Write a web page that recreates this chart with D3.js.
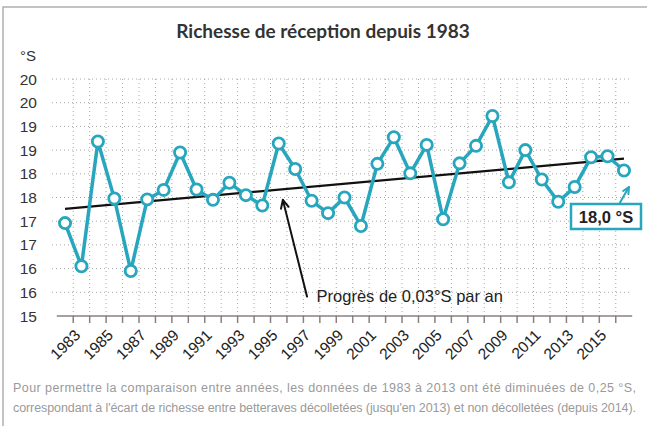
<!DOCTYPE html>
<html>
<head>
<meta charset="utf-8">
<script src="https://cdn.jsdelivr.net/npm/d3@7"></script>
<style>
    body { margin: 0; background: #fff; }
    svg { display: block; }
</style>
</head>
<body>
<script>
// values
const years = d3.range(1983, 2018);
const richesse = [
    16.96, 16.05, 18.68, 17.48, 15.95, 17.46, 17.66, 18.45, 17.67, 17.45,
    17.81, 17.55, 17.33, 18.64, 18.10, 17.43, 17.17, 17.50, 16.90, 18.21,
    18.77, 18.01, 18.61, 17.04, 18.22, 18.59, 19.22, 17.82, 18.50, 17.88,
    17.41, 17.72, 18.35, 18.37, 18.07
];
const trendYears = [1983, 2017];
const trendValues = [17.26, 18.32];
const yTicks = [15, 15.5, 16, 16.5, 17, 17.5, 18, 18.5, 19, 19.5, 20];
const yTickLabels = ["15", "16", "16", "17", "17", "18", "18", "19", "19", "20", "20"];
const xTickLabels = d3.range(1983, 2016, 2);

const title = "Richesse de réception depuis 1983";
const trendNote = "Progrès de 0,03°S par an";
const lastLabel = "18,0 °S";
const footnote = [
    "Pour permettre la comparaison entre années, les données de 1983 à 2013 ont été diminuées de 0,25 °S,",
    "correspondant à l'écart de richesse entre betteraves décolletées (jusqu'en 2013) et non décolletées (depuis 2014)."
];

const width = 647, height = 426;
const teal = "#27a6bd";

const svg = d3.select("body").append("svg")
    .attr("width", width)
    .attr("height", height);

// card frame (only top and left edges visible)
svg.append("path")
    .attr("d", `M3,${height} V7 H${width}`)
    .attr("fill", "none")
    .attr("stroke", "#b0b0b0")
    .attr("stroke-width", 1.5);

const x = d3.scaleBand()
    .domain(years)
    .range([56.8, 632.2]);
const cx = d => x(d) + x.bandwidth() / 2;
const xl = d3.scaleLinear()
    .domain([1983, 2017])
    .range([cx(1983), cx(2017)]);

const y = d3.scaleLinear()
    .domain([15, 20])
    .range([316, 79]);

// title
svg.append("text")
    .attr("x", 323)
    .attr("y", 38)
    .attr("text-anchor", "middle")
    .style("font", "bold 19px Lato")
    .attr("fill", "#333")
    .text(title);

svg.append("text")
    .attr("x", 20)
    .attr("y", 61)
    .style("font", "15px 'Liberation Sans'")
    .attr("fill", "#333")
    .text("°S");

// grid
const grid = svg.append("g")
    .attr("stroke", "#a8a8a8")
    .attr("stroke-width", 1)
    .attr("stroke-dasharray", "1,3");

grid.selectAll("line.h")
    .data(yTicks.slice(1))
    .join("line")
    .attr("class", "h")
    .attr("x1", 52).attr("x2", 631)
    .attr("y1", d => y(d)).attr("y2", d => y(d));

grid.selectAll("line.v")
    .data(years.slice(1))
    .join("line")
    .attr("class", "v")
    .attr("x1", d => x(d)).attr("x2", d => x(d))
    .attr("y1", y(20)).attr("y2", y(15));

// y labels
svg.append("g")
    .selectAll("text")
    .data(yTicks)
    .join("text")
    .attr("x", 37)
    .attr("y", d => y(d))
    .attr("dy", "0.36em")
    .attr("text-anchor", "end")
    .style("font", "15.5px 'Liberation Sans'")
    .attr("fill", "#333")
    .text((d, i) => yTickLabels[i]);

// x axis
const axis = svg.append("g")
    .attr("stroke", "#8a8080")
    .attr("stroke-width", 1.5);
axis.append("line")
    .attr("x1", x.range()[0]).attr("x2", x.range()[1])
    .attr("y1", y(15)).attr("y2", y(15));
axis.selectAll("line.tick")
    .data(years.slice(1))
    .join("line")
    .attr("class", "tick")
    .attr("x1", d => x(d)).attr("x2", d => x(d))
    .attr("y1", y(15)).attr("y2", y(15) + 7);

svg.append("g")
    .selectAll("text")
    .data(xTickLabels)
    .join("text")
    .attr("transform", d => `translate(${cx(d) + 8},${y(15) + 12}) rotate(-45)`)
    .attr("text-anchor", "end")
    .attr("dy", "0.75em")
    .style("font", "15.5px 'Liberation Sans'")
    .attr("fill", "#222")
    .text(d => d);

// trend line
svg.append("line")
    .attr("x1", xl(trendYears[0])).attr("y1", y(trendValues[0]))
    .attr("x2", xl(trendYears[1])).attr("y2", y(trendValues[1]))
    .attr("stroke", "#111")
    .attr("stroke-width", 2.2);

// data line
const line = d3.line()
    .x((d, i) => cx(years[i]))
    .y(d => y(d));

svg.append("path")
    .attr("d", line(richesse))
    .attr("fill", "none")
    .attr("stroke", teal)
    .attr("stroke-width", 3.5)
    .attr("stroke-linejoin", "round");

svg.append("g")
    .selectAll("circle")
    .data(richesse)
    .join("circle")
    .attr("cx", (d, i) => cx(years[i]))
    .attr("cy", d => y(d))
    .attr("r", 5.6)
    .attr("fill", "#fff")
    .attr("stroke", teal)
    .attr("stroke-width", 2.8);

// arrow helper
function arrow(x1, y1, x2, y2, color, w, head) {
    const a = Math.atan2(y2 - y1, x2 - x1);
    const g = svg.append("g")
        .attr("stroke", color)
        .attr("stroke-width", w)
        .attr("fill", "none")
        .attr("stroke-linecap", "round")
        .attr("stroke-linejoin", "round");
    g.append("line")
        .attr("x1", x1).attr("y1", y1)
        .attr("x2", x2).attr("y2", y2);
    const p = s => [x2 - head * Math.cos(a + s), y2 - head * Math.sin(a + s)];
    g.append("path")
        .attr("d", `M${p(0.45)}L${x2},${y2}L${p(-0.45)}`);
}

// trend annotation
arrow(xl(1997.72), y(15.41), xl(1996.25), y(17.45), "#111", 2, 9);
svg.append("text")
    .attr("x", xl(1998.3))
    .attr("y", y(15.3))
    .style("font", "16.5px 'Liberation Sans'")
    .attr("fill", "#222")
    .text(trendNote);

// last value label
arrow(xl(2016.7), y(17.36), xl(2017.3), y(17.72), teal, 2, 7);
svg.append("rect")
    .attr("x", 571).attr("y", 204)
    .attr("width", 70).attr("height", 25)
    .attr("fill", "#fff")
    .attr("stroke", teal)
    .attr("stroke-width", 2.5);
svg.append("text")
    .attr("x", 606)
    .attr("y", 222.5)
    .attr("text-anchor", "middle")
    .style("font", "bold 16.5px 'Liberation Sans'")
    .attr("fill", "#222")
    .text(lastLabel);

// footnote, justified
svg.append("g")
    .selectAll("text")
    .data(footnote)
    .join("text")
    .attr("x", 13)
    .attr("y", (d, i) => 392 + i * 20)
    .attr("textLength", 623)
    .attr("lengthAdjust", "spacing")
    .style("font", "12.5px 'Liberation Sans Narrow', 'Liberation Sans'")
    .attr("fill", "#9a9a9a")
    .text(d => d);
</script>
</body>
</html>
